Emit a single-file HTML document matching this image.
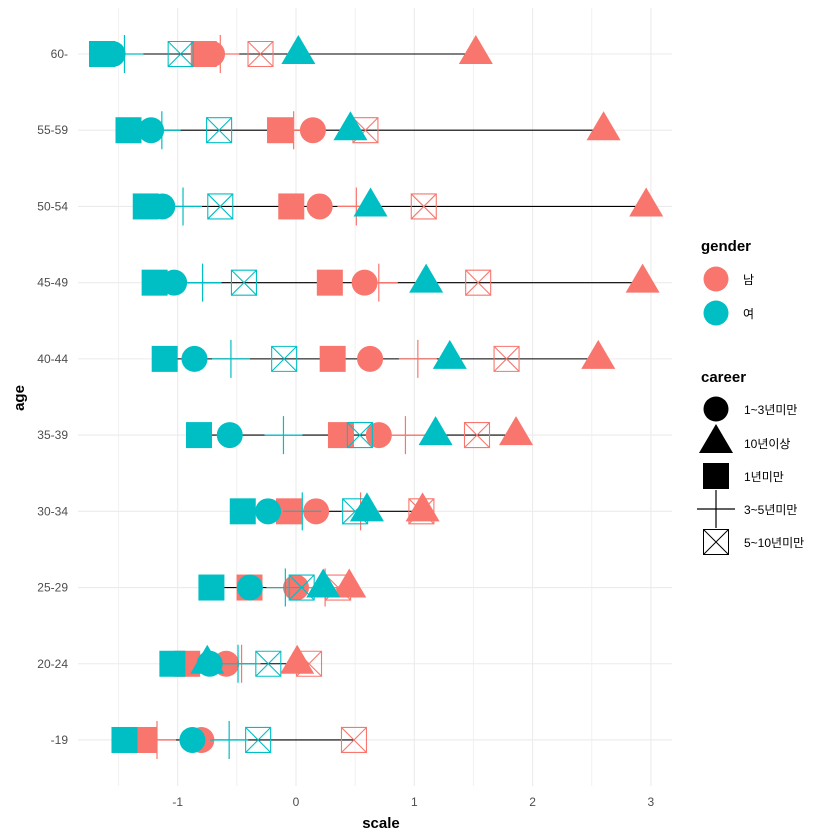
<!DOCTYPE html>
<html><head><meta charset="utf-8">
<style>
body{margin:0;background:#fff;}
svg{display:block;font-family:"Liberation Sans","Noto Sans CJK KR",sans-serif;}
</style></head>
<body>
<svg id="chart" width="840" height="840" xmlns="http://www.w3.org/2000/svg">
<g id="grid"></g>
<g id="lines"></g>
<g id="points"></g>
<g id="axes"></g>
<text x="381" y="828" font-size="15" font-weight="bold" text-anchor="middle" fill="#000">scale</text>
<text x="0" y="0" font-size="15" font-weight="bold" text-anchor="middle" fill="#000" transform="translate(24,398) rotate(-90)">age</text>
<g>
<text x="701" y="251" font-size="15" font-weight="bold">gender</text>
<circle cx="716" cy="279" r="12.5" fill="#F8766D"/>
<text x="743" y="284" font-size="12">남</text>
<circle cx="716" cy="313" r="12.5" fill="#00BFC4"/>
<text x="743" y="318" font-size="12">여</text>
</g>
<g>
<text x="701" y="382" font-size="15" font-weight="bold">career</text>
<circle cx="716" cy="409" r="12.5" fill="#000"/>
<text x="744" y="414" font-size="12">1~3년미만</text>
<polygon points="699,453 733,453 716,424" fill="#000"/>
<text x="744" y="448" font-size="12">10년이상</text>
<rect x="703" y="463" width="26" height="26" fill="#000"/>
<text x="744" y="481" font-size="12">1년미만</text>
<path d="M697,509H735M716,490V528" stroke="#000" stroke-width="1.2"/>
<text x="744" y="514" font-size="12">3~5년미만</text>
<path d="M703.5,529.5h25v25h-25zM703.5,529.5l25,25M728.5,529.5l-25,25" stroke="#000" fill="none" stroke-width="1"/>
<text x="744" y="547" font-size="12">5~10년미만</text>
</g>
</svg>
<script>
const ages = ["60-","55-59","50-54","45-49","40-44","35-39","30-34","25-29","20-24","-19"];
const xTicks = [-1,0,1,2,3];
const xMinor = [-1.5,-0.5,0.5,1.5,2.5];
// values per age (same order as ages), by gender & career
const male_1to3   = [-0.71,0.143,0.20,0.58,0.626,0.70,0.17,0.0,-0.59,-0.80];
const male_10plus = [1.52,2.60,2.96,2.93,2.555,1.86,1.07,0.45,0.01,null];
const male_under1 = [-0.78,-0.135,-0.04,0.286,0.31,0.38,-0.06,-0.393,-0.92,-1.285];
const male_3to5   = [-0.64,-0.02,0.51,0.70,1.03,0.925,0.546,0.246,-0.46,-1.175];
const male_5to10  = [-0.30,0.587,1.08,1.54,1.78,1.53,1.06,0.356,0.11,0.49];
const fem_1to3    = [-1.55,-1.225,-1.13,-1.03,-0.858,-0.56,-0.236,-0.39,-0.73,-0.876];
const fem_10plus  = [0.02,0.46,0.63,1.10,1.30,1.18,0.60,0.23,-0.75,null];
const fem_under1  = [-1.64,-1.416,-1.27,-1.195,-1.11,-0.82,-0.45,-0.715,-1.045,-1.45];
const fem_3to5    = [-1.45,-1.134,-0.955,-0.79,-0.55,-0.106,0.053,-0.09,-0.49,-0.565];
const fem_5to10   = [-0.975,-0.65,-0.64,-0.44,-0.10,0.54,0.50,0.048,-0.234,-0.32];

const X0=296, XS=118.3, Y0=54, YS=76.22, L=78, R=672, T=8, B=786;
const sx=v=>X0+v*XS, sy=i=>Y0+i*YS;
const NS="http://www.w3.org/2000/svg";
function mk(tag,attrs,parent){const e=document.createElementNS(NS,tag);for(const k in attrs)e.setAttribute(k,attrs[k]);parent.appendChild(e);return e;}
const grid=document.getElementById('grid'), lines=document.getElementById('lines'), pts=document.getElementById('points'), axes=document.getElementById('axes');
xMinor.forEach(v=>{const e=mk('line',{x1:sx(v),x2:sx(v),y1:T,y2:B,stroke:'#f2f2f2','stroke-width':1},grid);

});
xTicks.forEach(v=>{const e=mk('line',{x1:sx(v),x2:sx(v),y1:T,y2:B,stroke:'#ebebeb','stroke-width':1.1},grid);


const t=mk('text',{x:sx(v),y:806,'font-size':12,fill:'#4d4d4d','text-anchor':'middle'},axes);t.textContent=String(v);

});
ages.forEach((a,i)=>{const e=mk('line',{x1:L,x2:R,y1:sy(i),y2:sy(i),stroke:'#ebebeb','stroke-width':1.1},grid);


const t=mk('text',{x:68,y:sy(i)+4,'font-size':12,fill:'#4d4d4d','text-anchor':'end'},axes);t.textContent=a;

});
const all=[male_1to3,male_10plus,male_under1,male_3to5,male_5to10,fem_1to3,fem_10plus,fem_under1,fem_3to5,fem_5to10];
ages.forEach((a,i)=>{const vals=all.map(s=>s[i]).filter(v=>v!==null);
const e=mk('line',{x1:sx(Math.min(...vals)),x2:sx(Math.max(...vals)),y1:sy(i),y2:sy(i),stroke:'#000','stroke-width':1.1},lines);

});
const RED='#F8766D', CYAN='#00BFC4';
function draw(series,col,kind){series.forEach((v,i)=>{if(v===null)return;const x=sx(v),y=sy(i);let e;
if(kind==='square') e=mk('rect',{x:x-13,y:y-13,width:26,height:26,fill:col},pts);
else if(kind==='circle') e=mk('circle',{cx:x,cy:y,r:13,fill:col},pts);
else if(kind==='plus') e=mk('path',{d:`M${x-19},${y}H${x+19}M${x},${y-19}V${y+19}`,stroke:col,'stroke-width':1.2,fill:'none'},pts);
else if(kind==='xbox') e=mk('path',{d:`M${x-12.5},${y-12.5}h25v25h-25zM${x-12.5},${y-12.5}l25,25M${x+12.5},${y-12.5}l-25,25`,stroke:col,'stroke-width':1.1,fill:'none'},pts);
else e=mk('polygon',{points:`${x-17},${y+10} ${x+17},${y+10} ${x},${y-19}`,fill:col},pts);

});}
draw(male_under1,RED,'square');draw(fem_under1,CYAN,'square');
draw(male_1to3,RED,'circle');draw(fem_1to3,CYAN,'circle');
draw(male_3to5,RED,'plus');draw(fem_3to5,CYAN,'plus');
draw(male_5to10,RED,'xbox');draw(fem_5to10,CYAN,'xbox');
draw(male_10plus,RED,'triangle');draw(fem_10plus,CYAN,'triangle');
</script>
</body></html>
